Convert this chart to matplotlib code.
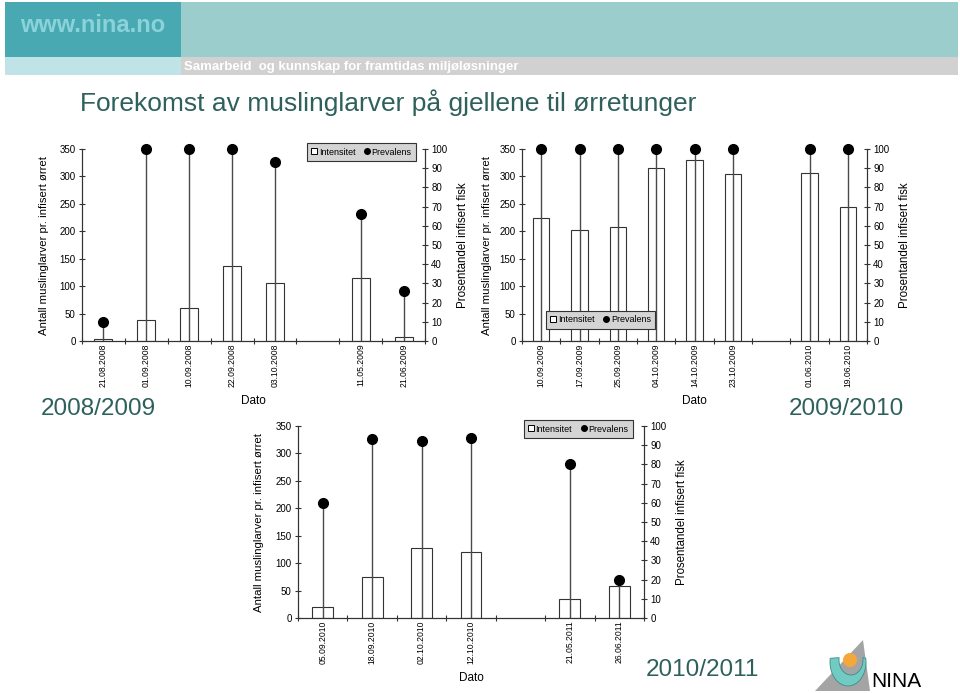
import numpy as np
import matplotlib

matplotlib.use("Agg")
import matplotlib.pyplot as plt  # noqa: E402
from matplotlib.lines import Line2D  # noqa: E402
from matplotlib.patches import Circle, Polygon, Rectangle  # noqa: E402

NAN = np.nan

# 2008/2009 (empty slot = no sampling)
DATES_0809 = ["21.08.2008", "01.09.2008", "10.09.2008", "22.09.2008", "03.10.2008", "",
              "11.05.2009", "21.06.2009"]
INTENS_0809 = [3, 39, 61, 137, 106, NAN, 115, 8]
PREV_0809 = [10, 100, 100, 100, 93, NAN, 66, 26]

# 2009/2010
DATES_0910 = ["10.09.2009", "17.09.2009", "25.09.2009", "04.10.2009", "14.10.2009", "23.10.2009", "",
              "01.06.2010", "19.06.2010"]
INTENS_0910 = [224, 202, 208, 316, 330, 304, NAN, 307, 245]
PREV_0910 = [100, 100, 100, 100, 100, 100, NAN, 100, 100]

# 2010/2011
DATES_1011 = ["05.09.2010", "18.09.2010", "02.10.2010", "12.10.2010", "", "21.05.2011", "26.06.2011"]
INTENS_1011 = [20, 75, 128, 121, NAN, 34, 58]
PREV_1011 = [60, 93, 92, 94, NAN, 80, 20]

TEAL_TEXT = "#2e605c"
LINE = "#333333"
FONT = ["Liberation Sans", "DejaVu Sans"]

plt.rcParams["font.family"] = FONT
W, H = 960, 693


def px_rect(x0, y0, x1, y1):
    return [x0 / W, 1 - y1 / H, (x1 - x0) / W, (y1 - y0) / H]


def draw_panel(fig, rect, dates, intensity, prevalence, leg_loc, leg_anchor, ylab_x, ylab2_x):
    ax = fig.add_axes(rect)
    n = len(dates)
    centers = np.arange(n) + 0.5
    ax.bar(centers, intensity, width=0.42, color="white", edgecolor=LINE, linewidth=0.8)
    ax.set_xlim(0, n)
    ax.set_ylim(0, 350)
    ax.set_yticks(np.arange(0, 351, 50))
    ax.set_xticks(np.arange(n + 1))
    ax.set_xticklabels([])
    ax.set_xticks(centers, minor=True)
    ax.set_xticklabels(dates, minor=True, rotation=90, fontsize=6.2)
    ax.tick_params(axis="x", which="minor", length=0, pad=2)
    ax.tick_params(axis="x", which="major", direction="inout", length=4, width=0.8, color=LINE)
    ax.tick_params(axis="y", direction="inout", length=5, width=0.8, color=LINE, labelsize=7, pad=2)
    for side in ["left", "right", "bottom"]:
        ax.spines[side].set_color(LINE)
        ax.spines[side].set_linewidth(0.8)
    ax.spines["top"].set_visible(False)
    ax.set_ylabel("Antall muslinglarver pr. infisert ørret", fontsize=8.2)
    ax.yaxis.set_label_coords(ylab_x, 0.5)
    ax.set_xlabel("Dato", fontsize=8.5, va="top")
    ax.xaxis.set_label_coords(0.5, -0.28)

    ax2 = ax.twinx()
    ax2.set_ylim(0, 100)
    ax2.set_yticks(np.arange(0, 101, 10))
    ax2.vlines(centers, 0, prevalence, color="#4a4a4a", linewidth=1.0)
    ax2.plot(centers, prevalence, "o", color="black", markersize=7, linestyle="none", clip_on=False)
    ax2.tick_params(axis="y", direction="inout", length=5, width=0.8, color=LINE, labelsize=7, pad=2)
    for side in ["left", "right", "bottom"]:
        ax2.spines[side].set_color(LINE)
        ax2.spines[side].set_linewidth(0.8)
    ax2.spines["top"].set_visible(False)
    ax2.set_ylabel("Prosentandel infisert fisk", fontsize=8.3, rotation=90)
    ax2.yaxis.set_label_coords(ylab2_x, 0.5)

    handles = [
        Line2D([], [], marker="s", linestyle="none", markerfacecolor="white", markeredgecolor="black",
               markersize=4, markeredgewidth=0.7, label="Intensitet"),
        Line2D([], [], marker="o", linestyle="none", color="black", markersize=4, label="Prevalens"),
    ]
    leg = ax2.legend(handles=handles, ncol=2, fontsize=6.5, loc=leg_loc, bbox_to_anchor=leg_anchor,
                     fancybox=False, framealpha=1, facecolor="#d4d4d4", edgecolor=LINE,
                     handlelength=0.6, handletextpad=0.2, columnspacing=1.0, borderpad=0.5,
                     borderaxespad=0)
    leg.get_frame().set_linewidth(0.8)
    return ax, ax2


fig = plt.figure(figsize=(W / 100, H / 100), dpi=100)

# background / header / logo in pixel coordinates
bg = fig.add_axes([0, 0, 1, 1])
bg.set_xlim(0, W)
bg.set_ylim(H, 0)
bg.axis("off")
bg.add_patch(Rectangle((5, 2), 176, 55, color="#49a9b2", lw=0))
bg.add_patch(Rectangle((181, 2), 777, 55, color="#9ccdcd", lw=0))
bg.add_patch(Rectangle((5, 57), 176, 18, color="#bfe3e6", lw=0))
bg.add_patch(Rectangle((181, 57), 777, 18, color="#d1d1d1", lw=0))
bg.text(20, 26, "www.nina.no", color="#8ad3da", fontsize=17, fontweight="bold",
        va="center", ha="left")
bg.text(184, 67, "Samarbeid  og kunnskap for framtidas miljøløsninger", color="white", fontsize=9.5,
        fontweight="bold", va="center", ha="left")
bg.text(80, 103, "Forekomst av muslinglarver på gjellene til ørretunger", color=TEAL_TEXT,
        fontsize=19, va="center", ha="left")
bg.text(98, 409, "2008/2009", color=TEAL_TEXT, fontsize=17.5, va="center", ha="center")
bg.text(846, 409, "2009/2010", color=TEAL_TEXT, fontsize=17.5, va="center", ha="center")
bg.text(702, 670, "2010/2011", color=TEAL_TEXT, fontsize=17.5, va="center", ha="center")

# NINA logo
bg.add_patch(Polygon([(815, 691), (863, 640), (870, 691)], closed=True, color="#a4a4a4", lw=0))
t = np.linspace(np.pi * 0.95, np.pi * 2.05, 40)
outer = np.column_stack([848 + 18 * np.cos(t), 662 - 24 * np.sin(t)])
inner = np.column_stack([851 + 12 * np.cos(t[::-1]), 660 - 15 * np.sin(t[::-1])])
bg.add_patch(Polygon(np.vstack([outer, inner]), closed=True, facecolor="#72cbc3",
                     edgecolor="#3c8c86", lw=0.6))
bg.add_patch(Circle((850, 660), 7, color="#f5a83a", lw=0))
bg.text(871, 691, "NINA", color="black", fontsize=15, va="bottom", ha="left")

draw_panel(fig, px_rect(82, 149, 425, 341), DATES_0809, INTENS_0809, PREV_0809,
           "upper right", (0.974, 1.031), -0.097, 1.094)
draw_panel(fig, px_rect(522, 149, 867, 341), DATES_0910, INTENS_0910, PREV_0910,
           "lower left", (0.07, 0.0625), -0.087, 1.094)
draw_panel(fig, px_rect(298, 426, 644, 618), DATES_1011, INTENS_1011, PREV_1011,
           "upper right", (0.968, 1.031), -0.099, 1.092)

fig.savefig("out.png", dpi=100)
plt.close(fig)
